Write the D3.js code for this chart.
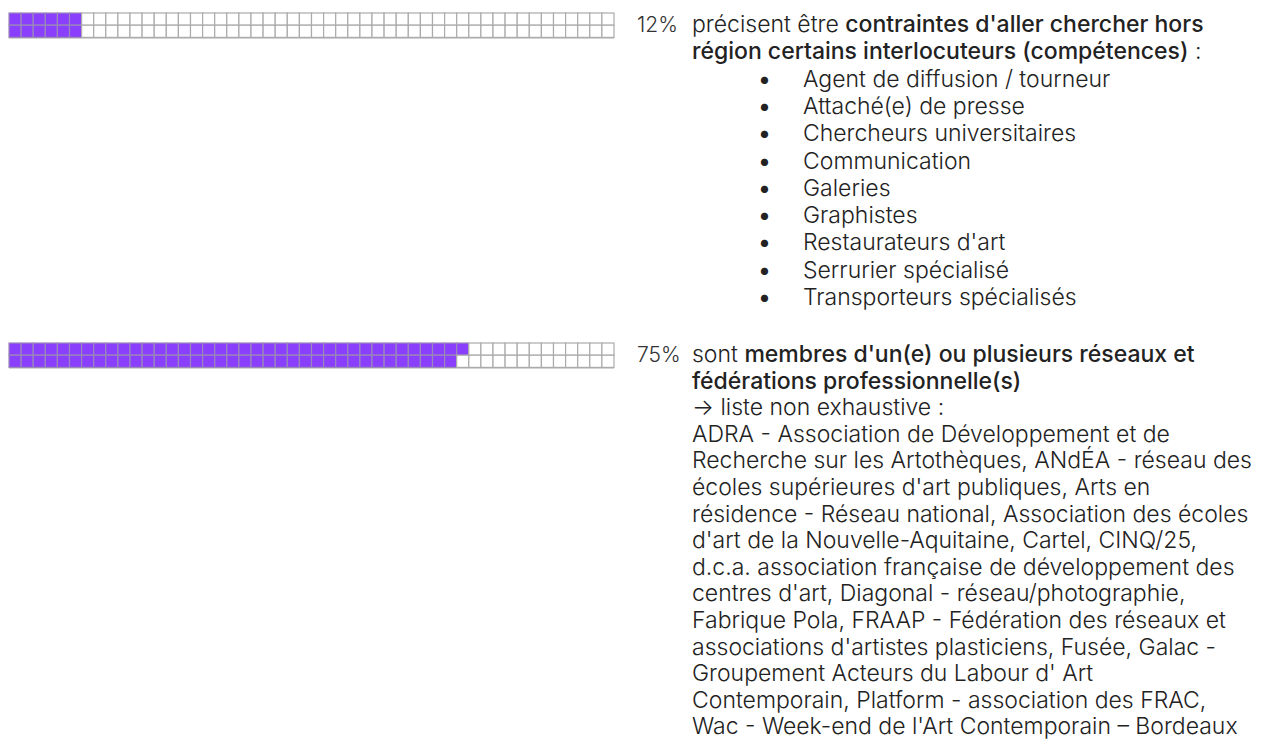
<!DOCTYPE html>
<html>
<head>
<meta charset="utf-8">
<script src="https://cdn.jsdelivr.net/npm/d3@7"></script>
<style>
  html, body { margin: 0; padding: 0; background: #fff; }
  svg { display: block; font-family: Inter, "Noto Sans", sans-serif; }
</style>
</head>
<body>
<svg id="chart" width="1269" height="751"></svg>
<script>
// ---- data ----
const percentages = [12, 75];
const percentLabels = ["12%", "75%"];
const block1Lines = [
  [{t: "précisent être "}, {t: "contraintes d'aller chercher hors", b: true}],
  [{t: "région certains interlocuteurs (compétences)", b: true}, {t: " :"}]
];
const block1Bullets = [
  "Agent de diffusion / tourneur",
  "Attaché(e) de presse",
  "Chercheurs universitaires",
  "Communication",
  "Galeries",
  "Graphistes",
  "Restaurateurs d'art",
  "Serrurier spécialisé",
  "Transporteurs spécialisés"
];
const block2Lines = [
  [{t: "sont "}, {t: "membres d'un(e) ou plusieurs réseaux et", b: true}],
  [{t: "fédérations professionnelle(s)", b: true}],
  [{t: "→ liste non exhaustive :"}],
  [{t: "ADRA - Association de Développement et de"}],
  [{t: "Recherche sur les Artothèques, ANdÉA - réseau des"}],
  [{t: "écoles supérieures d'art publiques, Arts en"}],
  [{t: "résidence - Réseau national, Association des écoles"}],
  [{t: "d'art de la Nouvelle-Aquitaine, Cartel, CINQ/25,"}],
  [{t: "d.c.a. association française de développement des"}],
  [{t: "centres d'art, Diagonal - réseau/photographie,"}],
  [{t: "Fabrique Pola, FRAAP - Fédération des réseaux et"}],
  [{t: "associations d'artistes plasticiens, Fusée, Galac -"}],
  [{t: "Groupement Acteurs du Labour d' Art"}],
  [{t: "Contemporain, Platform - association des FRAC,"}],
  [{t: "Wac - Week-end de l'Art Contemporain – Bordeaux"}]
];
const nCols = 50, nRows = 2;

// ---- layout ----
const svg = d3.select("#chart");
const purple = "#8a3ffc";
const gridStroke = "#ababab";
const textColor = "#222";
const fontSize = 23;
const pctSize = 21;
const lineHs = [27.3, 26.6];
const blockTops = [13, 343];   // top of each waffle
const textX = 692, pctX = 637, bulletX = 758, bulletTextX = 803;

const x = d3.scaleLinear().domain([0, nCols]).range([9, 614]);
const y = d3.scaleBand().domain(d3.range(nRows)).range([0, 24.4]);

const blocks = [
  {pct: percentages[0], label: percentLabels[0], lines: block1Lines, bullets: block1Bullets},
  {pct: percentages[1], label: percentLabels[1], lines: block2Lines, bullets: []}
];

blocks.forEach((blk, bi) => {
  const lineH = lineHs[bi];
  const g = svg.append("g").attr("transform", `translate(0,${blockTops[bi]})`);
  const cells = d3.range(nCols * nRows).map(i => ({
    col: Math.floor(i / nRows), row: i % nRows, filled: i < blk.pct
  }));
  g.append("rect")
    .attr("x", x(0)).attr("y", y.range()[1])
    .attr("width", x(nCols) - x(0)).attr("height", 1.5)
    .attr("fill", "#d0d0d0");
  g.selectAll("rect.cell").data(cells).join("rect")
    .attr("class", "cell")
    .attr("x", d => x(d.col))
    .attr("y", d => y(d.row))
    .attr("width", x(1) - x(0))
    .attr("height", y.bandwidth())
    .attr("fill", d => d.filled ? purple : "#fff")
    .attr("stroke", d => d.filled ? "#9a88b8" : gridStroke)
    .attr("stroke-width", 1.2);

  const baseline = 19;
  g.append("text")
    .attr("x", pctX).attr("y", baseline)
    .attr("font-size", pctSize).attr("font-weight", 300)
    .attr("fill", "#333")
    .text(blk.label);

  blk.lines.forEach((segs, li) => {
    const t = g.append("text")
      .attr("x", textX).attr("y", baseline + li * lineH)
      .attr("font-size", fontSize).attr("fill", textColor);
    segs.forEach(s => {
      t.append("tspan")
        .attr("font-weight", s.b ? 500 : 300)
        .style("white-space", "pre")
        .text(s.t);
    });
  });

  const bStart = baseline + blk.lines.length * lineH;
  blk.bullets.forEach((b, k) => {
    const yy = bStart + k * lineH;
    g.append("text").attr("x", bulletX).attr("y", yy)
      .attr("font-size", fontSize).attr("fill", textColor).text("•");
    g.append("text").attr("x", bulletTextX).attr("y", yy)
      .attr("font-size", fontSize).attr("font-weight", 300)
      .attr("fill", textColor).text(b);
  });
});
</script>
</body>
</html>
